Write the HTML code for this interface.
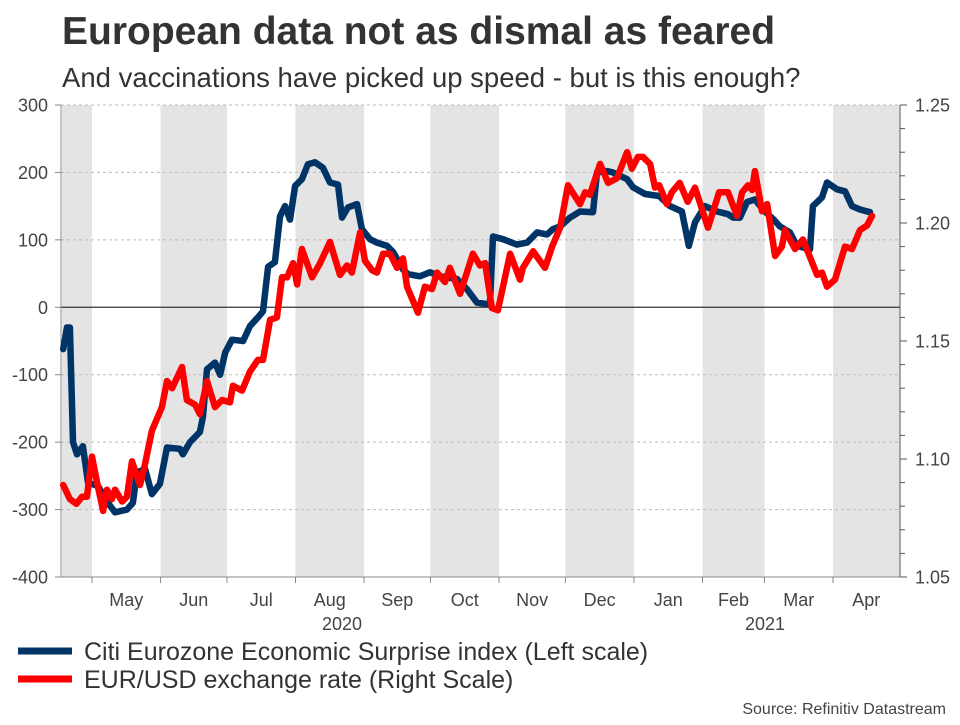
<!DOCTYPE html>
<html><head><meta charset="utf-8"><style>
body{margin:0;background:#fff;width:960px;height:720px;overflow:hidden;font-family:"Liberation Sans",Arial,sans-serif}
svg text{font-family:"Liberation Sans",Arial,sans-serif}
</style></head><body>
<svg id="c" width="960" height="720"></svg>
<script>
const months=["May","Jun","Jul","Aug","Sep","Oct","Nov","Dec","Jan","Feb","Mar","Apr"];
const monthStarts=[30,61,91,122,153,183,214,244,275,306,334,365];
const leftTicks=[300,200,100,0,-100,-200,-300,-400];
const rightTicks=[1.25,1.20,1.15,1.10,1.05];
const citiDays=[17,18.7,20,21.4,23.2,25.9,28.2,32.7,37.2,40.4,45.8,48.5,50.3,54,57.1,60.7,63.9,69.8,71.1,74.3,78.8,80.2,82,85.6,87.9,90.2,93.3,98.3,101.4,105,107.3,109.6,112.7,115,117.3,119.5,121.8,124.9,127.6,130.8,134.4,137.6,141.2,143,145.7,149.8,152,155.7,158.8,163.4,166.1,170.6,172.9,178.3,182.8,187.3,195,199.5,204,209.9,211.3,215.8,222.1,226.7,231.2,235.7,238.4,241.6,246.1,250.6,256.5,258.3,262.8,265.5,271.9,274.6,280,286.4,291.3,296.7,299.8,302.6,307.1,312.6,317.5,319.8,322.9,326.1,329.7,333.3,337.9,341,345.5,348.7,354.6,355.9,360,362.3,366.8,370.4,373.6,377.2,381.7];
const citiVals=[-62,-30,-30,-200,-218,-206,-260,-265,-290,-304,-300,-290,-245,-240,-277,-262,-208,-210,-218,-200,-185,-162,-92,-82,-100,-67,-48,-50,-28,-15,-6,60,67,135,150,130,180,190,212,215,207,185,182,133,148,153,116,101,96,91,82,56,49,46,52,46,42,27,7,4,105,101,93,96,111,108,116,120,133,142,141,200,202,200,190,178,168,165,150,142,91,126,150,142,138,133,133,156,160,145,131,120,111,91,86,150,163,185,175,172,150,145,141];
const fxDays=[17,20,23,25.5,27.7,30,32.3,35,36.8,39,40.4,43.6,45.8,48.1,51.7,54,57.1,59.8,61.6,63.9,66.2,70.7,72.9,76.6,78.8,82,85.6,88.8,92.4,93.7,97.8,101.4,105,107.3,110.5,113.6,115.9,118.2,120.9,122.7,124.9,129.5,133.1,137.6,142.1,145.3,147.5,151.2,153.4,156.6,158.8,161.6,164.7,167.9,170.6,172.4,177.4,180.5,183.7,186,189.6,191.8,196.4,202.2,205.4,207.7,210.8,213.5,215.8,219,223.5,224.8,229.4,234.8,238,241.6,245.2,250.6,252.9,255.1,259.7,263.3,267.3,271.9,274.1,276.8,279.1,282.3,284.5,286.4,289.9,292.1,295.7,299.3,302.6,308.5,313.5,317.5,321.6,323.9,326.6,328.4,329.7,332.9,335.2,338.8,341.9,343.3,347.8,351.4,357.8,360,362.3,365.9,370.4,373.6,377.2,380.4,382.6];
const fxVals=[1.089,1.083,1.081,1.084,1.084,1.101,1.090,1.078,1.087,1.083,1.087,1.082,1.084,1.099,1.089,1.098,1.112,1.118,1.122,1.133,1.130,1.139,1.125,1.123,1.119,1.133,1.122,1.125,1.124,1.131,1.129,1.137,1.142,1.142,1.159,1.160,1.177,1.177,1.183,1.174,1.189,1.177,1.183,1.192,1.178,1.182,1.179,1.196,1.184,1.180,1.179,1.187,1.187,1.181,1.185,1.173,1.162,1.173,1.172,1.179,1.175,1.181,1.170,1.187,1.182,1.183,1.164,1.163,1.173,1.187,1.176,1.181,1.188,1.181,1.190,1.198,1.216,1.208,1.213,1.212,1.225,1.217,1.219,1.230,1.223,1.228,1.228,1.225,1.215,1.216,1.208,1.213,1.217,1.209,1.215,1.198,1.213,1.213,1.203,1.213,1.216,1.214,1.222,1.205,1.208,1.186,1.190,1.197,1.189,1.193,1.178,1.179,1.173,1.176,1.190,1.189,1.197,1.199,1.203];

const L=61,R=900,T=105,B=577;
const x=d=>92+(d-30)*2.212;
const yl=v=>T+(300-v)*(B-T)/700;
const yr=v=>T+(1.25-v)*(B-T)/0.2;
const svg=document.getElementById('c');
const NS='http://www.w3.org/2000/svg';
function mk(tag,attrs,parent){const e=document.createElementNS(NS,tag);for(const k in attrs)e.setAttribute(k,attrs[k]);(parent||svg).appendChild(e);return e;}
function tx(s,attrs){const e=mk('text',attrs);e.textContent=s;return e;}

let e=tx('European data not as dismal as feared',{x:62,y:44,'font-size':39,'font-weight':'bold',fill:'#333'});

e=tx('And vaccinations have picked up speed - but is this enough?',{x:62,y:87,'font-size':27.5,fill:'#333'});


const bandEdges=[16.4].concat(monthStarts).concat([395]);
for(let i=0;i<bandEdges.length-1;i+=2){
  const x0=Math.max(L,x(bandEdges[i])),x1=Math.min(R,x(bandEdges[i+1]));
  e=mk('rect',{x:x0,y:T,width:x1-x0,height:B-T,fill:'#e4e4e4'});
  
}
leftTicks.forEach(v=>{
  if(v===0||v===-400)return;
  e=mk('line',{x1:L,x2:R,y1:yl(v),y2:yl(v),stroke:'#bbb','stroke-dasharray':'3,3','stroke-width':1});
  
});
e=mk('line',{x1:L,x2:R,y1:yl(0),y2:yl(0),stroke:'#333','stroke-width':1.2});


e=mk('line',{x1:L,x2:L,y1:T,y2:B,stroke:'#888'});
e=mk('line',{x1:R,x2:R,y1:T,y2:B,stroke:'#555'});
e=mk('line',{x1:L-6,x2:R,y1:B,y2:B,stroke:'#888'});

leftTicks.forEach(v=>{
  mk('line',{x1:L-6,x2:L,y1:yl(v),y2:yl(v),stroke:'#888'});
  e=tx(String(v),{x:L-13,y:yl(v)+6.5,'font-size':18,fill:'#444','text-anchor':'end'});
  
});
rightTicks.forEach(v=>{
  e=tx(v.toFixed(2),{x:R+15,y:yr(v)+6.5,'font-size':18,fill:'#444'});
  
  mk('line',{x1:R,x2:R+7,y1:yr(v),y2:yr(v),stroke:'#555'});
});
for(let k=0;k<=20;k++){const v=1.05+k*0.01;mk('line',{x1:R,x2:R+5,y1:yr(v),y2:yr(v),stroke:'#555'});}

monthStarts.forEach((d,i)=>{
  mk('line',{x1:x(d),x2:x(d),y1:B,y2:B+6,stroke:'#888'});
  const nxt=i<monthStarts.length-1?monthStarts[i+1]:395;
  e=tx(months[i],{x:(x(d)+Math.min(R,x(nxt)))/2,y:606,'font-size':18,fill:'#444','text-anchor':'middle'});
  
});
e=tx('2020',{x:342,y:630,'font-size':18,fill:'#444','text-anchor':'middle'});

e=tx('2021',{x:765,y:630,'font-size':18,fill:'#444','text-anchor':'middle'});


function line(days,vals,ys,color,name){
  const d=days.map((t,i)=>(i?'L':'M')+x(t).toFixed(1)+','+ys(vals[i]).toFixed(1)).join('');
  const p=mk('path',{d:d,fill:'none',stroke:color,'stroke-width':6.5,'stroke-linejoin':'round','stroke-linecap':'round'});
  
  
}
line(citiDays,citiVals,yl,'#003366','citi-surprise-line');
line(fxDays,fxVals,yr,'#ff0000','eurusd-line');

e=mk('line',{x1:18,x2:72,y1:651,y2:651,stroke:'#003366','stroke-width':7});

e=tx('Citi Eurozone Economic Surprise index (Left scale)',{x:84,y:660,'font-size':25,fill:'#333'});

e=mk('line',{x1:18,x2:72,y1:679,y2:679,stroke:'#ff0000','stroke-width':7});

e=tx('EUR/USD exchange rate (Right Scale)',{x:84,y:688,'font-size':25,fill:'#333'});

e=tx('Source: Refinitiv Datastream',{x:946,y:714,'font-size':16,fill:'#444','text-anchor':'end'});

</script>
</body></html>
